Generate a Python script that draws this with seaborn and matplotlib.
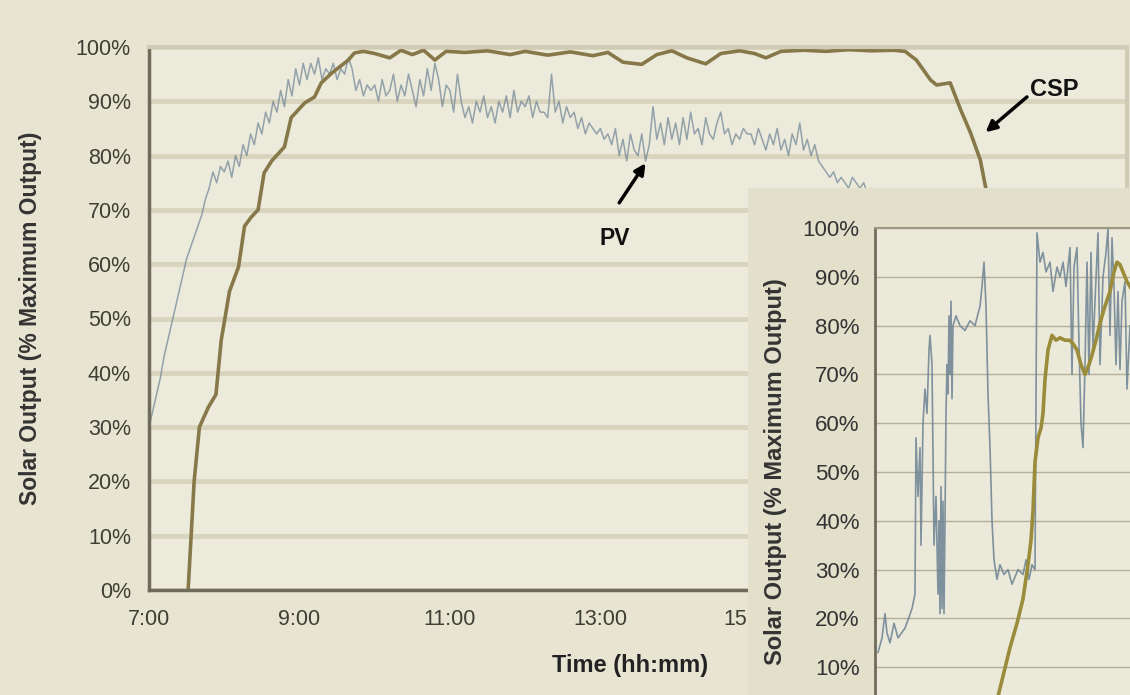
import numpy as np
import pandas as pd
import matplotlib
matplotlib.use("Agg")
import matplotlib.pyplot as plt
from matplotlib.ticker import FuncFormatter
import seaborn as sns

sns.set_style("white")
plt.rcParams['font.family'] = ['Liberation Sans', 'DejaVu Sans']

# --- main chart: clear day, CSP vs PV output ---
csp_hour = [7.52, 7.56, 7.60, 7.67, 7.79, 7.89, 7.96, 8.07, 8.19, 8.27, 8.36, 8.45, 8.53, 8.63,
            8.80, 8.89, 9.07, 9.20, 9.29, 9.43, 9.65, 9.73, 9.85, 10.0, 10.2, 10.35, 10.5, 10.65,
            10.8, 10.95, 11.2, 11.5, 11.8, 12.0, 12.3, 12.6, 12.9, 13.1, 13.3, 13.55, 13.75, 13.95,
            14.15, 14.4, 14.6, 14.85, 15.05, 15.2, 15.4, 15.7, 16.0, 16.3, 16.6, 16.9, 17.05, 17.2,
            17.39, 17.47, 17.65, 17.79, 17.92, 18.05, 18.12, 18.25, 18.4, 18.55, 18.7, 18.85, 19.0]
csp_pct = [0, 10, 20, 30, 33.7, 36, 46, 55, 59.5, 67, 68.7, 70, 76.8, 79,
           81.6, 87, 89.7, 90.8, 93.4, 95.2, 97.6, 98.9, 99.2, 98.8, 98.0, 99.4, 98.6, 99.4,
           97.6, 99.2, 99.0, 99.3, 98.6, 99.2, 98.5, 99.1, 98.4, 99.0, 97.2, 96.8, 98.6, 99.3,
           98.0, 96.9, 98.8, 99.3, 98.8, 98.0, 99.2, 99.4, 99.2, 99.5, 99.3, 99.4, 99.2, 97.6,
           93.9, 93.0, 93.4, 88.4, 84.2, 79.2, 74.2, 66, 55, 40, 24, 10, 0]

# PV: one reading every 3 minutes starting 7:00
pv_start_hour = 7.0
pv_step_min = 3
pv_pct = [
    30, 33, 36, 39, 43, 46, 49, 52, 55, 58, 61, 63, 65, 67, 69, 72, 74, 77, 75, 78,   # 7:00
    77, 79, 76, 80, 78, 82, 80, 84, 82, 86, 84, 88, 86, 90, 88, 92, 89, 94, 91, 96,   # 8:00
    93, 97, 94, 97, 95, 98, 94, 96, 95, 97, 94, 96, 95, 98, 96, 92, 94, 91, 93, 92,   # 9:00
    93, 90, 94, 91, 92, 95, 90, 93, 91, 95, 92, 89, 94, 91, 96, 92, 97, 94, 89, 93,   # 10:00
    92, 88, 95, 90, 87, 89, 86, 90, 88, 91, 87, 89, 86, 90, 88, 91, 87, 92, 88, 90,   # 11:00
    89, 91, 87, 90, 88, 88, 87, 95, 88, 90, 86, 89, 87, 88, 85, 87, 84, 86, 85, 84,   # 12:00
    85, 83, 84, 82, 85, 80, 83, 79, 84, 81, 80, 84, 79, 82, 89, 83, 86, 82, 87, 83,   # 13:00
    86, 82, 87, 83, 88, 84, 85, 82, 87, 84, 83, 86, 88, 84, 85, 82, 84, 83, 85, 84,   # 14:00
    84, 82, 85, 83, 81, 84, 82, 85, 81, 83, 80, 84, 82, 86, 81, 83, 80, 82, 79, 78,   # 15:00
    77, 76, 77, 75, 76, 75, 74, 76, 75, 74, 75, 73, 74, 72, 70, 68, 66, 63, 60, 57,   # 16:00
    54, 50, 46, 42, 38, 34, 30, 26, 22, 18, 14, 10, 7, 5, 3, 1, 0,                    # 17:00
]
x_ticks = [7, 9, 11, 13, 15, 17, 19]

# --- inset: cloudy morning (minutes after 6:00) ---
inset_pv_min = [3, 7, 10, 12, 15, 19, 23, 30, 37, 40, 41, 43, 45, 46, 48, 50, 52, 54, 55, 57,
                59, 61, 63, 64, 65, 66, 67, 68, 69, 70, 71, 72, 73, 74, 75, 76, 77, 78, 81, 85,
                90, 95, 100, 105, 107, 109, 111, 113, 115, 117, 119, 122, 125, 129, 133, 137,
                143, 148, 151, 154, 157, 160, 162, 165, 168, 171, 175, 178, 182, 185, 188, 191,
                195, 197, 199, 202, 204, 206, 208, 210, 212, 214, 216, 218, 220, 223, 225, 228,
                231, 233, 235, 237, 239, 241, 243, 245, 247, 250, 252, 255, 258]
inset_pv_pct = [13, 16, 21, 17, 15, 19, 16, 18, 22, 25, 57, 45, 55, 35, 60, 67, 62, 75, 78, 72,
                35, 45, 25, 40, 21, 47, 22, 44, 21, 40, 62, 72, 66, 82, 70, 85, 65, 80, 82, 80,
                79, 81, 80, 84, 88, 93, 84, 66, 55, 40, 32, 28, 31, 29, 30, 27,
                30, 29, 32, 28, 31, 30, 99, 93, 95, 91, 93, 87, 92, 90, 93, 88,
                96, 70, 92, 96, 76, 60, 55, 72, 93, 70, 95, 75, 85, 99, 72, 90,
                95, 100, 78, 98, 88, 72, 87, 71, 85, 89, 67, 80, 75]
inset_csp_min = [118, 123, 129, 135, 142, 148, 153, 156, 158, 160, 163, 166, 168, 170, 173, 177,
                 181, 185, 190, 195, 199, 202, 206, 210, 214, 217, 221, 225, 230, 235, 239, 242,
                 245, 248, 252, 255, 260]
inset_csp_pct = [0, 4, 9, 14, 19, 24, 31, 36, 42, 52, 57, 59, 62, 69, 75, 78,
                 77, 77.5, 77, 77, 76, 75, 72, 70, 72, 74, 77, 80.5, 84, 87, 91, 93,
                 92.5, 91, 89, 88, 86]
y_ticks = list(range(0, 101, 10))

pv_hour = pv_start_hour + np.arange(len(pv_pct)) * pv_step_min / 60.0

W, H = 1130, 695
fig = plt.figure(figsize=(W / 100, H / 100), dpi=100)
fig.patch.set_facecolor('#e7e5d1')

dark = '#6f6c5c'
csp_col = '#877849'
pv_col = '#6d8294'

# main axes
ax = fig.add_axes([149 / W, (H - 590) / H, (1127 - 149) / W, (590 - 47) / H], zorder=1)
ax.set_facecolor('#ecebdb')
sns.lineplot(x=pv_hour, y=pv_pct, ax=ax, color=pv_col, linewidth=1.1, alpha=0.7,
             sort=False, estimator=None)
sns.lineplot(x=csp_hour, y=csp_pct, ax=ax, color=csp_col, linewidth=2.6,
             sort=False, estimator=None)
ax.set_xlim(7, 20)
ax.set_ylim(0, 100)
ax.set_xticks(x_ticks)
ax.xaxis.set_major_formatter(FuncFormatter(lambda v, p: f"{int(v)}:00"))
ax.set_yticks(y_ticks)
ax.yaxis.set_major_formatter(FuncFormatter(lambda v, p: f"{int(v)}%"))
ax.yaxis.grid(True, color='#d8d4bd', linewidth=3.5)
ax.set_axisbelow(True)
ax.tick_params(axis='both', labelsize=15.5, colors='#3e3e34', length=5, width=1.5,
               direction='out', pad=8)
ax.tick_params(axis='x', length=7, pad=7)
for side in ['left', 'bottom']:
    ax.spines[side].set_color(dark)
    ax.spines[side].set_linewidth(2.5)
for side in ['top', 'right']:
    ax.spines[side].set_color('#cfcbb4')
    ax.spines[side].set_linewidth(3)
ax.set_ylabel('Solar Output (% Maximum Output)', fontsize=16.5, fontweight='bold', color='#333')
ax.yaxis.set_label_coords(-0.109, 0.5)
ax.set_xlabel('Time (hh:mm)', fontsize=17, fontweight='bold', color='#222')
ax.xaxis.set_label_coords(0.492, -0.118)

arrow = dict(arrowstyle='-|>', color='black', lw=2.5, mutation_scale=16, shrinkA=0, shrinkB=0)
ax.annotate('', xy=(13.6, 78.6), xytext=(13.25, 71.3), arrowprops=arrow)
ax.text(13.19, 64.8, 'PV', fontsize=16.5, fontweight='bold', ha='center', va='center', color='#111')
ax.annotate('', xy=(18.12, 84.3), xytext=(18.67, 90.8), arrowprops=arrow)
ax.text(18.71, 92.2, 'CSP', fontsize=17, fontweight='bold', ha='left', va='center', color='#111')

# inset background box
box = fig.add_axes([748 / W, -0.2, 0.4, (H - 188) / H + 0.2], zorder=2)
box.set_facecolor('#e2e0cb')
box.set_xticks([])
box.set_yticks([])
for s in box.spines.values():
    s.set_visible(False)

# inset axes
ins = fig.add_axes([875 / W, (H - 716) / H, 270 / W, (716 - 228) / H], zorder=3)
ins.set_facecolor('#ebe9d9')
sns.lineplot(x=inset_pv_min, y=inset_pv_pct, ax=ins, color=pv_col, linewidth=1.2, alpha=0.85,
             sort=False, estimator=None)
sns.lineplot(x=inset_csp_min, y=inset_csp_pct, ax=ins, color='#9a8c3a', linewidth=2.6,
             sort=False, estimator=None)
ins.set_xlim(0, 270)
ins.set_ylim(0, 100)
ins.set_yticks(y_ticks)
ins.yaxis.set_major_formatter(FuncFormatter(lambda v, p: f"{int(v)}%"))
ins.set_xticks([])
ins.yaxis.grid(True, color='#b3af98', linewidth=1)
ins.set_axisbelow(True)
ins.tick_params(axis='y', labelsize=16, colors='#333', length=6, width=1.5, pad=5)
ins.spines['left'].set_color(dark)
ins.spines['left'].set_linewidth(2)
ins.spines['top'].set_color('#9d9983')
ins.spines['top'].set_linewidth(1.5)
ins.spines['right'].set_visible(False)
ins.spines['bottom'].set_visible(False)
ins.set_ylabel('Solar Output (% Maximum Output)', fontsize=17, fontweight='bold', color='#333')
ins.yaxis.set_label_coords(-0.326, 0.5)

fig.savefig('out.png', dpi=100, facecolor=fig.get_facecolor())
